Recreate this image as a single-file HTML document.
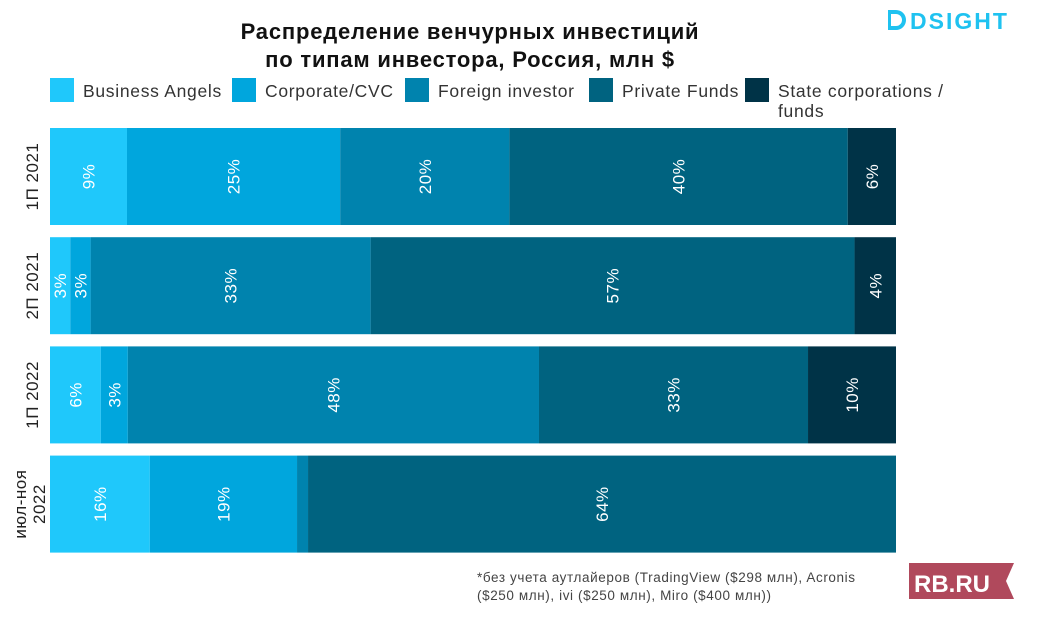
<!DOCTYPE html>
<html><head><meta charset="utf-8">
<style>
body{margin:0;background:#fff;width:1042px;height:618px;overflow:hidden;font-family:"Liberation Sans","Noto Sans CJK SC",sans-serif;}
svg{display:block}
</style></head>
<body>
<svg id="chart" width="1042" height="618">
<text x="470" y="39" text-anchor="middle" font-size="22" font-weight="bold" fill="#111" letter-spacing="0.8">Распределение венчурных инвестиций</text>
<text x="470" y="67" text-anchor="middle" font-size="22" font-weight="bold" fill="#111" letter-spacing="0.8">по типам инвестора, Россия, млн $</text>
<g>
<path d="M888 10 L896 10 A10 10 0 0 1 896 30 L888 30 Z M891 14 L891 26 L896 26 A6 6 0 0 0 896 14 Z" fill="#1fc2f0"/>
<text x="910" y="29" font-size="23" font-weight="bold" fill="#1fc2f0" letter-spacing="2">DSIGHT</text>
</g>
<g>
<path d="M909 563 L1014 563 L1006 581 L1014 599 L909 599 Z" fill="#b0495c"/>
<text x="914" y="592" font-size="24" font-weight="bold" fill="#fff">RB.RU</text>
</g>
<text x="477" y="582" font-size="13.5" fill="#444" letter-spacing="0.6">*без учета аутлайеров (TradingView ($298 млн), Acronis</text>
<text x="477" y="600" font-size="13.5" fill="#444" letter-spacing="0.6">($250 млн), ivi ($250 млн), Miro ($400 млн))</text>
<g id="legend"></g>
<g id="bars"></g>
</svg>
<script>
const categories = [["1П 2021"],["2П 2021"],["1П 2022"],["июл-ноя","2022"]];
const seriesNames = ["Business Angels","Corporate/CVC","Foreign investor","Private Funds","State corporations /"];
const businessAngels = [9.1, 2.4, 6.0, 11.8];
const corporate = [25.2, 2.4, 3.2, 17.4];
const foreign = [20.0, 33.1, 48.6, 1.3];
const privateFunds = [40.0, 57.2, 31.8, 69.5];
const state = [5.7, 4.9, 10.4, 0];
const labelsBA = ["9%","3%","6%","16%"];
const labelsCorp = ["25%","3%","3%","19%"];
const labelsForeign = ["20%","33%","48%",""];
const labelsPrivate = ["40%","57%","33%","64%"];
const labelsState = ["6%","4%","10%",""];
const colors = ["#1fc8fb","#00a6dd","#0083ae","#006380","#003347"];
const series = [businessAngels, corporate, foreign, privateFunds, state];
const labels = [labelsBA, labelsCorp, labelsForeign, labelsPrivate, labelsState];
const NS = "http://www.w3.org/2000/svg";
const x0 = 50, xW = 846;
const xScale = v => x0 + v / 100 * xW;
const rowTop = i => 128 + i * 109.2;
const rowH = 97;
const bars = document.getElementById("bars");
categories.forEach((cat, i) => {
  let acc = 0;
  const y = rowTop(i);
  series.forEach((s, k) => {
    const v = s[i];
    const xa = xScale(acc), xb = xScale(acc + v);
    acc += v;
    if (v <= 0) return;
    const r = document.createElementNS(NS, "rect");
    r.setAttribute("x", xa); r.setAttribute("y", y);
    r.setAttribute("width", xb - xa); r.setAttribute("height", rowH);
    r.setAttribute("fill", colors[k]);
    
    
    bars.appendChild(r);
    const lab = labels[k][i];
    if (lab) {
      const cx = (xa + xb) / 2, cy = y + rowH / 2;
      const t = document.createElementNS(NS, "text");
      t.setAttribute("transform", `translate(${cx + 6},${cy}) rotate(-90)`);
      t.setAttribute("text-anchor", "middle");
      t.setAttribute("font-size", "17");
      t.setAttribute("letter-spacing", "0.5");
      t.setAttribute("fill", "#fff");
      t.textContent = lab;
      
      
      bars.appendChild(t);
    }
  });
  const cy = y + rowH / 2;
  const g = document.createElementNS(NS, "text");
  g.setAttribute("transform", `translate(${cat.length > 1 ? 26 : 38},${cy}) rotate(-90)`);
  g.setAttribute("text-anchor", "middle");
  g.setAttribute("font-size", "17");
  g.setAttribute("letter-spacing", "0.5");
  g.setAttribute("fill", "#222");
  cat.forEach((line, j) => {
    const ts = document.createElementNS(NS, "tspan");
    ts.setAttribute("x", 0); ts.setAttribute("dy", j ? 19 : 0);
    ts.textContent = line;
    g.appendChild(ts);
  });
  
  
  bars.appendChild(g);
});
const legend = document.getElementById("legend");
const legX = [50, 232, 405, 589, 745];
seriesNames.forEach((n, k) => {
  const r = document.createElementNS(NS, "rect");
  r.setAttribute("x", legX[k]); r.setAttribute("y", 78);
  r.setAttribute("width", 24); r.setAttribute("height", 24);
  r.setAttribute("fill", colors[k]);
  
  
  legend.appendChild(r);
  const t = document.createElementNS(NS, "text");
  t.setAttribute("x", legX[k] + 33); t.setAttribute("y", 97);
  t.setAttribute("font-size", "17.5"); t.setAttribute("fill", "#333");
  t.setAttribute("letter-spacing", "0.7");
  t.textContent = n;
  
  
  legend.appendChild(t);
});
const t2 = document.createElementNS(NS, "text");
t2.setAttribute("x", 778); t2.setAttribute("y", 117);
t2.setAttribute("font-size", "17.5"); t2.setAttribute("fill", "#333");
t2.setAttribute("letter-spacing", "0.7");
t2.textContent = "funds";


legend.appendChild(t2);
</script>
</body></html>
